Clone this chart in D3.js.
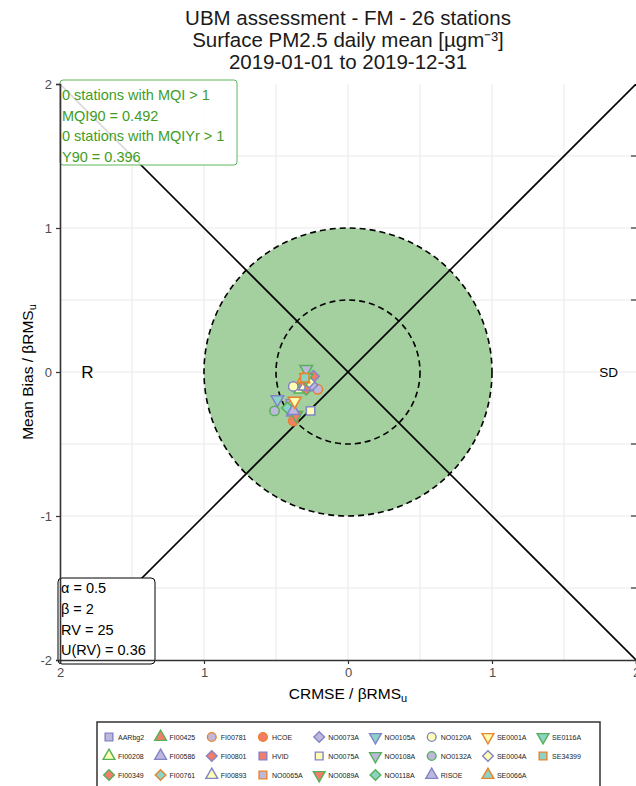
<!DOCTYPE html>
<html>
<head>
<meta charset="utf-8">
<script src="https://cdn.jsdelivr.net/npm/d3@7"></script>
<style>
  body { margin: 0; background: #fff; }
  svg { font-family: "Liberation Sans", Arial, sans-serif; display: block; }
</style>
</head>
<body>
<div id="chart"></div>
<script>
// station data
const stations = ["AARbg2", "FI00208", "FI00349", "FI00425", "FI00586", "FI00761", "FI00781", "FI00801", "FI00893",
    "HCOE", "HVID", "NO0065A", "NO0073A", "NO0075A", "NO0089A", "NO0105A", "NO0108A", "NO0118A",
    "NO0120A", "NO0132A", "RISOE", "SE0001A", "SE0004A", "SE0066A", "SE0116A", "SE34399"];
const shapes = ["square", "triUp", "diamond", "triUp", "triUp", "diamond", "circle", "diamond", "triUp",
    "circle", "square", "square", "diamond", "square", "triDown", "triDown", "triDown", "diamond",
    "circle", "circle", "triUp", "triDown", "diamond", "triUp", "triDown", "square"];
const fills = ["purple", "yellow", "red", "red", "purple", "teal", "purple", "red", "yellow",
    "red", "red", "purple", "purple", "yellow", "red", "teal", "purple", "teal",
    "yellow", "purple", "purple", "yellow", "yellow", "teal", "teal", "teal"];
const borders = ["purple", "green", "green", "green", "purple", "orange", "orange", "purple", "purple",
    "orange", "purple", "orange", "purple", "purple", "green", "purple", "green", "green",
    "purple", "green", "purple", "orange", "purple", "orange", "green", "orange"];
// CRMSE / bRMSu (negative = R side) and Mean Bias / bRMSu
const crmse = [-0.40, -0.33, -0.29, -0.31, -0.38, -0.40, -0.21, -0.24, -0.30,
    -0.38, -0.27, -0.28, -0.25, -0.26, -0.36, -0.49, -0.29, -0.42,
    -0.38, -0.51, -0.38, -0.37, -0.27, -0.31, -0.29, -0.30];
const bias = [-0.22, -0.12, -0.12, -0.08, -0.28, -0.24, -0.12, -0.03, -0.10,
    -0.34, -0.10, -0.06, -0.09, -0.27, -0.30, -0.19, 0.02, -0.25,
    -0.10, -0.27, -0.27, -0.20, -0.07, -0.05, -0.04, -0.04];

const titleLines = ["UBM assessment - FM - 26 stations", "Surface PM2.5 daily mean [\u00b5gm\u207b\u00b3]", "2019-01-01 to 2019-12-31"];
const statsLines = ["0 stations with MQI > 1", "MQI90 = 0.492", "0 stations with MQIYr > 1", "Y90 = 0.396"];
const paramLines = ["\u03b1 = 0.5", "\u03b2 = 2", "RV = 25", "U(RV) = 0.36"];
const xTicks = [-2, -1, 0, 1, 2];
const yTicks = [-2, -1, 0, 1, 2];
const gridVals = [-1.5, -1, -0.5, 0, 0.5, 1, 1.5];

const palette = {
    purple: "#bdb8dc", yellow: "#ffffb3", red: "#f47c69", teal: "#8dd3c5"
};
const strokes = { purple: "#8284c8", green: "#55b159", orange: "#e6842e" };

const W = 636, H = 786;
const svg = d3.select("#chart").append("svg").attr("width", W).attr("height", H);

const x = d3.scaleLinear().domain([-2, 2]).range([60, 636]);
const y = d3.scaleLinear().domain([2, -2]).range([84, 660]);

svg.append("defs").append("clipPath").attr("id", "plotClip")
    .append("rect").attr("x", 60).attr("y", 84).attr("width", 576).attr("height", 576);

const plot = svg.append("g").attr("clip-path", "url(#plotClip)");

// grid
plot.selectAll(".gx").data(gridVals).join("line")
    .attr("x1", d => x(d)).attr("x2", d => x(d)).attr("y1", 84).attr("y2", 660)
    .attr("stroke", "#e9e9e9").attr("stroke-width", 1);
plot.selectAll(".gy").data(gridVals).join("line")
    .attr("y1", d => y(d)).attr("y2", d => y(d)).attr("x1", 60).attr("x2", 636)
    .attr("stroke", "#e9e9e9").attr("stroke-width", 1);

// target circles
const r1 = x(1) - x(0);
plot.append("circle").attr("cx", x(0)).attr("cy", y(0)).attr("r", r1)
    .attr("fill", "#a4cf9f").attr("stroke", "#000").attr("stroke-width", 1.6)
    .attr("stroke-dasharray", "6,4");
plot.append("circle").attr("cx", x(0)).attr("cy", y(0)).attr("r", r1 / 2)
    .attr("fill", "none").attr("stroke", "#000").attr("stroke-width", 1.6)
    .attr("stroke-dasharray", "6,4");

// diagonals
plot.append("line").attr("x1", x(-2)).attr("y1", y(2)).attr("x2", x(2)).attr("y2", y(-2))
    .attr("stroke", "#000").attr("stroke-width", 1.6);
plot.append("line").attr("x1", x(-2)).attr("y1", y(-2)).attr("x2", x(2)).attr("y2", y(2))
    .attr("stroke", "#000").attr("stroke-width", 1.6);

// R / SD labels
svg.append("text").attr("x", x(-1.81)).attr("y", y(0) + 6).attr("text-anchor", "middle")
    .style("font-size", "17px").text("R");
svg.append("text").attr("x", x(1.81)).attr("y", y(0) + 5).attr("text-anchor", "middle")
    .style("font-size", "13.5px").text("SD");

// markers
function symbolPath(shape, s) {
    if (shape === "circle") return d3.symbol(d3.symbolCircle, s)();
    if (shape === "square") return d3.symbol(d3.symbolSquare, s)();
    if (shape === "diamond") return d3.symbol(d3.symbolSquare, s * 0.95)();
    return d3.symbol(d3.symbolTriangle, s)();
}
function symbolRot(shape) {
    if (shape === "diamond") return 45;
    if (shape === "triDown") return 180;
    return 0;
}

const pts = stations.map((s, i) => ({
    name: s, shape: shapes[i], fill: palette[fills[i]], stroke: strokes[borders[i]],
    cx: crmse[i], bias: bias[i]
}));

plot.selectAll(".pt").data(pts).join("path")
    .attr("class", "pt")
    .attr("d", d => symbolPath(d.shape, 70))
    .attr("transform", d => `translate(${x(d.cx)},${y(d.bias)}) rotate(${symbolRot(d.shape)})`)
    .attr("fill", d => d.fill).attr("stroke", d => d.stroke).attr("stroke-width", 1.5);

// stats box
const sb = svg.append("g");
sb.append("rect").attr("x", 60).attr("y", 80).attr("width", 177).attr("height", 85).attr("rx", 3)
    .attr("fill", "#fff").attr("fill-opacity", 0.85).attr("stroke", "#5cb85c").attr("stroke-width", 1);
sb.selectAll("text").data(statsLines).join("text")
    .attr("x", 62).attr("y", (d, i) => 100 + i * 20.5)
    .style("font-size", "14.5px").attr("fill", "#3f9d25").text(d => d);

// params box
const pb = svg.append("g");
pb.append("rect").attr("x", 58).attr("y", 578).attr("width", 97).attr("height", 86).attr("rx", 4)
    .attr("fill", "#fff").attr("stroke", "#000").attr("stroke-width", 1);
pb.selectAll("text").data(paramLines).join("text")
    .attr("x", 61).attr("y", (d, i) => 593 + i * 20.8)
    .style("font-size", "14.5px").attr("fill", "#000").text(d => d);

// axes
const xAxis = svg.append("g").attr("transform", `translate(0,660)`)
    .call(d3.axisBottom(x).tickValues(xTicks).tickFormat(d => Math.abs(d)).tickSize(4).tickPadding(4));
const yAxis = svg.append("g").attr("transform", `translate(60,0)`)
    .call(d3.axisLeft(y).tickValues(yTicks).tickFormat(d => String(d)).tickSize(4).tickPadding(4));
[xAxis, yAxis].forEach(a => {
    a.select(".domain").attr("stroke", "#333").attr("stroke-width", 1.6);
    a.selectAll(".tick line").attr("stroke", "#333").attr("stroke-width", 1.2);
    a.selectAll(".tick text").attr("fill", "#4d4d4d").style("font-size", "13px")
        .style("font-family", "Liberation Sans, Arial, sans-serif");
});
// small marks on right border
svg.selectAll(".rt").data(gridVals.filter(d => d !== 0)).join("line")
    .attr("x1", 631).attr("x2", 636).attr("y1", d => y(d)).attr("y2", d => y(d))
    .attr("stroke", "#333").attr("stroke-width", 1.2);

// axis titles
const xt = svg.append("text").attr("x", 348).attr("y", 699).attr("text-anchor", "middle")
    .style("font-size", "15.5px");
xt.append("tspan").text("CRMSE / \u03b2RMS");
xt.append("tspan").attr("dy", 3).style("font-size", "11px").text("u");

const yt = svg.append("text").attr("transform", `translate(33,372) rotate(-90)`)
    .attr("text-anchor", "middle").style("font-size", "15.5px");
yt.append("tspan").text("Mean Bias / \u03b2RMS");
yt.append("tspan").attr("dy", 3).style("font-size", "11px").text("u");

// title
svg.selectAll(".title").data(titleLines).join("text")
    .attr("x", 348).attr("y", (d, i) => 25 + i * 22).attr("text-anchor", "middle")
    .style("font-size", "20.5px").attr("fill", "#1a1a1a").text(d => d);

// legend
const lg = svg.append("g");
lg.append("rect").attr("x", 97).attr("y", 722).attr("width", 503).attr("height", 70)
    .attr("fill", "#fff").attr("stroke", "#333").attr("stroke-width", 1.5);
const nRows = 3;
let colX = 109;
for (let c = 0; c * nRows < pts.length; c++) {
    const items = pts.slice(c * nRows, c * nRows + nRows);
    let maxW = 0;
    items.forEach((d, r) => {
        const cy = 737 + r * 19;
        lg.append("path").attr("d", symbolPath(d.shape, 60))
            .attr("transform", `translate(${colX},${cy}) rotate(${symbolRot(d.shape)})`)
            .attr("fill", d.fill).attr("stroke", d.stroke).attr("stroke-width", 1.4);
        const t = lg.append("text").attr("x", colX + 9).attr("y", cy + 2.5)
            .style("font-size", "7px").attr("fill", "#222").text(d.name);
        maxW = Math.max(maxW, t.node().getComputedTextLength());
    });
    colX += 9 + maxW + 16.5;
}
</script>
</body>
</html>
